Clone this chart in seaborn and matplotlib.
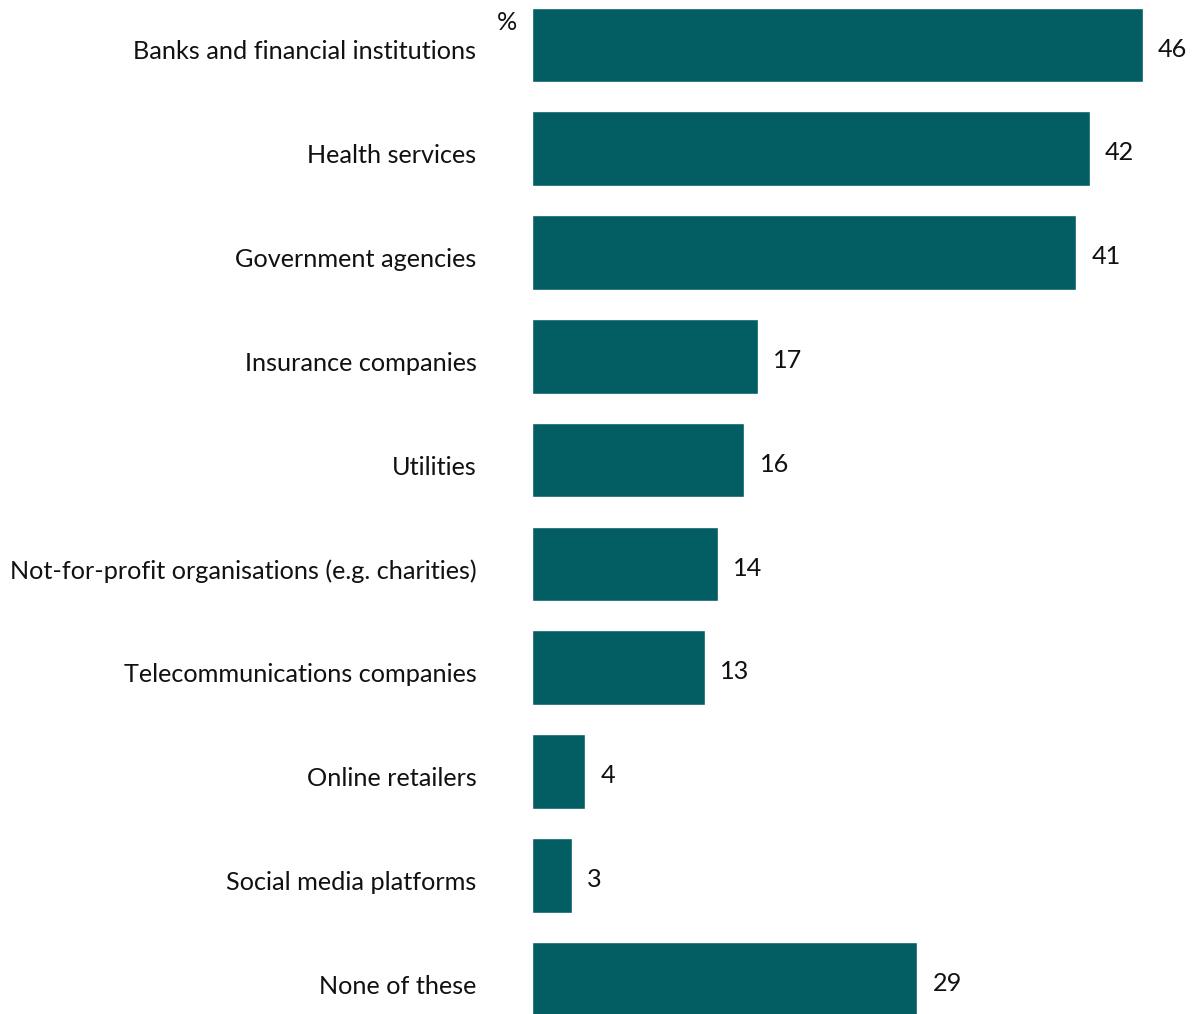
import matplotlib
matplotlib.use("Agg")
import matplotlib.pyplot as plt
import matplotlib.transforms as mtransforms
import seaborn as sns
import pandas as pd

categories = [
    "Banks and financial institutions",
    "Health services",
    "Government agencies",
    "Insurance companies",
    "Utilities",
    "Not-for-profit organisations (e.g. charities)",
    "Telecommunications companies",
    "Online retailers",
    "Social media platforms",
    "None of these",
]
values = [46, 42, 41, 17, 16, 14, 13, 4, 3, 29]

df = pd.DataFrame({"category": categories, "value": values})

sns.set_theme(style="white")
plt.rcParams["font.family"] = ["Lato", "DejaVu Sans"]

W, H = 1195, 1014
fig = plt.figure(figsize=(W / 100, H / 100), dpi=100)
ax = fig.add_axes([532 / W, 0, 664 / W, 1])

sns.barplot(data=df, x="value", y="category", orient="h", color="#025E63",
            saturation=1, width=0.72, ax=ax)

ax.set_xlim(0, 50)
ax.set_ylim(9 + 35 / 103.8, -45 / 103.8)

for s in ax.spines.values():
    s.set_visible(False)
ax.set_xticks([])
ax.set_xlabel("")
ax.set_ylabel("")
ax.tick_params(axis="y", length=0, pad=40, labelsize=18.2, labelcolor="#111111")

# nudge category labels slightly below the bar centres
shift = mtransforms.ScaledTranslation(0, -5 / 100, fig.dpi_scale_trans)
for lbl in ax.get_yticklabels():
    lbl.set_transform(lbl.get_transform() + shift)

texts = ax.bar_label(ax.containers[0], labels=[str(v) for v in values],
                     padding=11, fontsize=18.2, color="#111111")
for t in texts:
    dx, dy = t.xyann
    t.xyann = (dx, dy - 3)

ax.text(-0.023, 0.978, "%", transform=ax.transAxes, ha="right", va="center",
        fontsize=18.2, color="#111111")

fig.savefig("out.png", dpi=100)
